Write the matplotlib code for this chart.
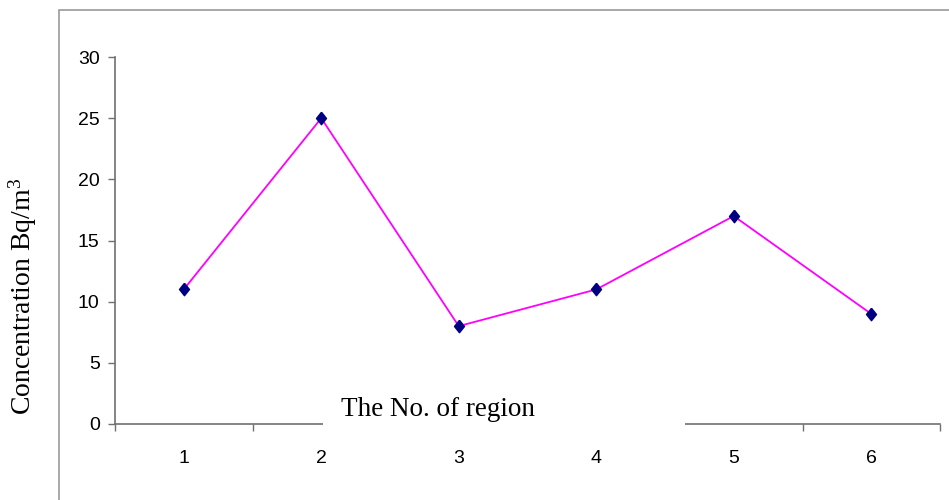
import matplotlib
matplotlib.use("Agg")
import matplotlib.pyplot as plt
from matplotlib.patches import Rectangle
from matplotlib import font_manager

plt.rcParams["mathtext.fontset"] = "custom"
plt.rcParams["mathtext.rm"] = "Liberation Serif"
plt.rcParams["mathtext.it"] = "Liberation Serif:italic"

regions = ["1", "2", "3", "4", "5", "6"]
concentration = [11, 25, 8, 11, 17, 9]
y_ticks = [0, 5, 10, 15, 20, 25, 30]

names = {f.name for f in font_manager.fontManager.ttflist}
if "Liberation Sans Narrow" in names:
    tick_family, tick_size = "Liberation Sans Narrow", 16
else:
    tick_family, tick_size = "Liberation Sans", 14

fig = plt.figure(figsize=(9.49, 5.0), dpi=100)
# outer frame (chart area border)
fig.patches.append(Rectangle((59 / 949, -0.1), 1.0, 1.08, transform=fig.transFigure,
                             fill=False, edgecolor="#9a9a9a", linewidth=1.2))

ax = fig.add_axes([115 / 949, (500 - 424) / 500, 825 / 949, 367 / 500])
x = [i + 0.5 for i in range(len(regions))]
diamond = [(0, 1), (0.8, 0), (0, -1), (-0.8, 0), (0, 1)]
ax.plot(x, concentration, color="#FF00FF", linewidth=1.3, zorder=3)
ax.plot(x, concentration, linestyle="none", marker=diamond, markersize=9,
        color="#000080", markeredgecolor="#000080", zorder=4)

ax.set_xlim(0, len(regions))
ax.set_ylim(0, 30)
ax.set_yticks(y_ticks)
ax.set_yticklabels([str(v) for v in y_ticks])
ax.set_xticks(range(len(regions) + 1))
ax.set_xticklabels([])
ax.set_xticks(x, minor=True)
ax.set_xticklabels(regions, minor=True)

for s in ["top", "right"]:
    ax.spines[s].set_visible(False)
for s in ["left", "bottom"]:
    ax.spines[s].set_color("#707070")
    ax.spines[s].set_linewidth(1.2)

ax.tick_params(axis="y", direction="out", length=5, width=1, color="#707070",
               pad=6, labelsize=tick_size, labelcolor="black")
ax.tick_params(axis="x", which="major", direction="out", length=5, width=1,
               color="#707070")
ax.tick_params(axis="x", which="minor", length=0, pad=19, labelsize=tick_size)
for lab in ax.get_yticklabels() + ax.get_xticklabels(minor=True):
    lab.set_fontfamily(tick_family)

# white box behind the x-axis title that interrupts the axis line
ax.add_patch(Rectangle(((323 - 115) / 825, -10 / 367), (685 - 323) / 825, 35 / 367,
                       transform=ax.transAxes, facecolor="white", edgecolor="none",
                       clip_on=False, zorder=5))
ax.text((438 - 115) / 825, (424 - 409) / 367, "The No. of region", transform=ax.transAxes,
        ha="center", va="center", fontsize=19.5, family="Liberation Serif", zorder=6)

fig.text(23 / 949, 1 - 296 / 500, "Concentration Bq/m$^{3}$", rotation=90,
         ha="center", va="center", fontsize=20, family="Liberation Serif")

fig.savefig("out.png", dpi=100)
